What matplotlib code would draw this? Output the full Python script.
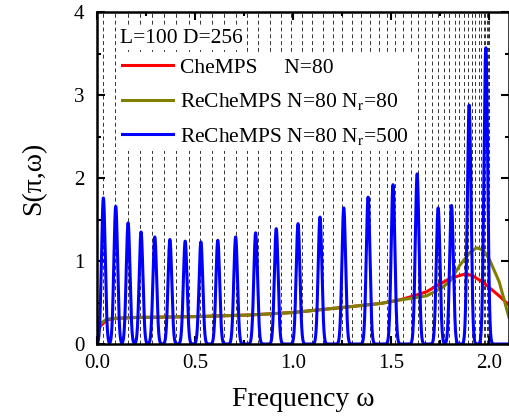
import numpy as np
import matplotlib
matplotlib.use("Agg")
import matplotlib.pyplot as plt

plt.rcParams["font.family"] = ["Liberation Serif", "DejaVu Serif"]
plt.rcParams["mathtext.fontset"] = "stix"

# exact excitation energies (dashed lines)
omega_levels = [0.0314, 0.0942, 0.1569, 0.2195, 0.2818, 0.3439, 0.4056, 0.4669,
                0.5277, 0.5881, 0.6478, 0.7070, 0.7654, 0.8230, 0.8799, 0.9359,
                0.9909, 1.0450, 1.0980, 1.1500, 1.2008, 1.2505, 1.2989, 1.3460,
                1.3918, 1.4363, 1.4793, 1.5208, 1.5609, 1.5994, 1.6363, 1.6716,
                1.7053, 1.7373, 1.7675, 1.7961, 1.8228, 1.8478, 1.8709, 1.8922,
                1.9116, 1.9291, 1.9447, 1.9584, 1.9702, 1.9800, 1.9879, 1.9938,
                1.9978, 1.9998]

# CheMPS N=80
chemps_w = [0.0, 0.02, 0.05, 0.1, 0.2, 0.5, 0.78, 1.0, 1.29, 1.45, 1.54, 1.6,
            1.68, 1.73, 1.8, 1.87, 1.91, 1.97, 2.05, 2.1]
chemps_s = [0.15, 0.22, 0.29, 0.31, 0.32, 0.33, 0.35, 0.38, 0.45, 0.49, 0.53, 0.57,
            0.63, 0.70, 0.79, 0.84, 0.83, 0.74, 0.58, 0.47]

# ReCheMPS N=80 Nr=80
rechemps80_w = [0.0, 0.02, 0.05, 0.1, 0.2, 0.5, 0.78, 1.0, 1.29, 1.45, 1.54, 1.6,
                1.68, 1.76, 1.8, 1.85, 1.9, 1.935, 1.97, 2.0, 2.05, 2.1]
rechemps80_s = [0.15, 0.25, 0.30, 0.31, 0.32, 0.33, 0.35, 0.38, 0.45, 0.49, 0.53, 0.55,
                0.58, 0.68, 0.76, 0.95, 1.10, 1.16, 1.13, 1.02, 0.75, 0.32]

# ReCheMPS N=80 Nr=500 : peak positions / heights
peak_w = [0.033, 0.096, 0.159, 0.225, 0.295, 0.372, 0.450, 0.530, 0.616, 0.707,
          0.809, 0.914, 1.025, 1.137, 1.258, 1.382, 1.509, 1.632, 1.739, 1.807,
          1.897, 1.982]
peak_s = [1.76, 1.66, 1.46, 1.35, 1.29, 1.26, 1.24, 1.23, 1.25, 1.29, 1.34, 1.39,
          1.45, 1.53, 1.64, 1.77, 1.92, 2.05, 1.64, 1.67, 2.88, 3.57]
peak_width = 0.0095  # gaussian broadening of each peak

fig = plt.figure(figsize=(5.1, 4.17), dpi=100)
ax = fig.add_axes([0.190, 0.175, 0.808, 0.796])

for w in omega_levels:
    ax.axvline(w, color="#333333", lw=0.7, ls=(0, (4.0, 3.0)), zorder=1)

ax.plot(chemps_w, chemps_s, color="#ff0000", lw=2.2, zorder=3,
        label="CheMPS     N=80")
ax.plot(rechemps80_w, rechemps80_s, color="#808000", lw=2.2, zorder=3,
        label=r"ReCheMPS N=80 N$_\mathrm{r}$=80")

grid = np.linspace(0, 2.1, 5000)
blue = np.zeros_like(grid)
for c, h in zip(peak_w, peak_s):
    blue += h * np.exp(-0.5 * ((grid - c) / peak_width) ** 2)
ax.plot(grid, blue, color="#0000ff", lw=2.2, zorder=4,
        label=r"ReCheMPS N=80 N$_\mathrm{r}$=500")

ax.set_xlim(0, 2.1)
ax.set_ylim(0, 4)
ax.set_xticks([0.0, 0.5, 1.0, 1.5, 2.0])
ax.set_xticklabels(["0.0", "0.5", "1.0", "1.5", "2.0"])
ax.set_xticks([0.25, 0.75, 1.25, 1.75], minor=True)
ax.set_yticks([0, 1, 2, 3, 4])
ax.set_yticks([0.5, 1.5, 2.5, 3.5], minor=True)
ax.tick_params(which="both", direction="in", top=True, right=True, width=1.5,
               labelsize=15)
ax.tick_params(axis="x", which="major", pad=7)
ax.tick_params(axis="y", which="major", pad=9)
ax.tick_params(which="major", length=6)
ax.tick_params(which="minor", length=3)
for sp in ax.spines.values():
    sp.set_linewidth(1.8)
    sp.set_zorder(5)

ax.set_xlabel("Frequency ω", fontsize=20, labelpad=10)
ax.set_ylabel("S(π,ω)", fontsize=20, labelpad=20)

ax.text(0.056, 0.92, "L=100 D=256", transform=ax.transAxes, fontsize=15.5,
        va="center", ha="left", zorder=6,
        bbox=dict(facecolor="white", edgecolor="none", pad=1.5))
leg = ax.legend(loc="upper left", bbox_to_anchor=(0.05, 0.875), fontsize=15.5,
                frameon=True, fancybox=False, borderaxespad=0, borderpad=0.2,
                handlelength=2.4, handletextpad=0.3, labelspacing=0.62)
leg.get_frame().set_facecolor("white")
leg.get_frame().set_edgecolor("none")
leg.get_frame().set_alpha(1)
leg.set_zorder(6)

fig.savefig("out.png", dpi=100)
